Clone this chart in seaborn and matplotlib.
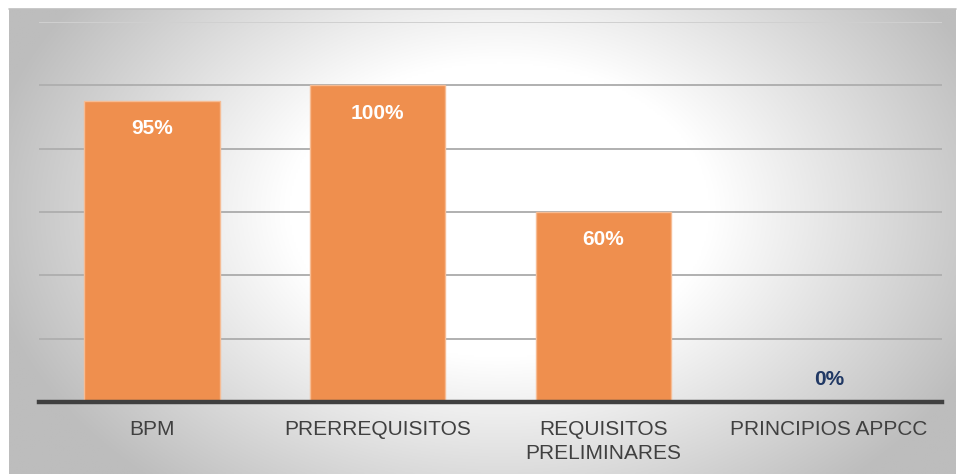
import numpy as np
import pandas as pd
import matplotlib
matplotlib.use("Agg")
import matplotlib.pyplot as plt
import seaborn as sns

categories = ["BPM", "PRERREQUISITOS", "REQUISITOS\nPRELIMINARES", "PRINCIPIOS APPCC"]
values = [95, 100, 60, 0]
value_labels = ["95%", "100%", "60%", "0%"]

sns.set_theme(style="white")
plt.rcParams['font.family'] = ['Liberation Sans', 'DejaVu Sans']

W, H = 957, 474
fig = plt.figure(figsize=(W / 100, H / 100), dpi=100)
fig.patch.set_facecolor("white")

# radial gradient background (chart area)
bx0, by0, bx1, by1 = 9, 9, 956, 474
bg = fig.add_axes([bx0 / W, 0, (bx1 - bx0) / W, (by1 - by0) / H], zorder=0)
nx, ny = 480, 240
xs = np.linspace(bx0, bx1, nx)
ys = np.linspace(by0, by1, ny)
X, Y = np.meshgrid(xs, ys)
d = np.sqrt(((X - 500) / 470) ** 2 + ((Y - 210) / 330) ** 2)
t = np.clip((d - 0.45) / 0.55, 0, 1.2)
g = (255 - 55 * t) / 255
img = np.dstack([g, g, g])
bg.imshow(img, aspect="auto", extent=[0, 1, 0, 1], origin="upper")
bg.set_xlim(0, 1)
bg.set_ylim(0, 1)
bg.axis("off")
# thin frame line on top
fig.add_artist(plt.Line2D([bx0 / W, bx1 / W], [1 - by0 / H, 1 - by0 / H], color="#BFBFBF", lw=1.2, transform=fig.transFigure, zorder=1))

ax = fig.add_axes([39 / W, (H - 402) / H, (942 - 39) / W, (402 - 22) / H], zorder=2)
ax.patch.set_alpha(0)

df = pd.DataFrame({"cat": categories, "val": values})
sns.barplot(data=df, x="cat", y="val", ax=ax, color="#EF8F4E", saturation=1,
            width=0.6, edgecolor="#F6BC94", linewidth=1.0, zorder=3)

ax.set_ylim(0, 120)
ax.set_yticks([0, 20, 40, 60, 80, 100, 120])
ax.yaxis.grid(True, color="#B0B0B0", linewidth=1.4, zorder=1)
gl = ax.get_ygridlines()
gl[-1].set_color("#D0D0D0")
ax.set_axisbelow(True)
ax.tick_params(axis="y", left=False, labelleft=False)
ax.tick_params(axis="x", bottom=False, labelsize=15, labelcolor="#404040", pad=7)
for lab in ax.get_xticklabels():
    lab.set_linespacing(1.35)
ax.set_xlabel("")
ax.set_ylabel("")
for s in ["top", "right", "left"]:
    ax.spines[s].set_visible(False)
ax.spines["bottom"].set_color("#404040")
ax.spines["bottom"].set_linewidth(3.2)
ax.spines["bottom"].set_zorder(4)

for i, (v, lab) in enumerate(zip(values, value_labels)):
    if v > 0:
        ax.annotate(lab, (i, v), xytext=(0, -20), textcoords="offset points",
                    ha="center", va="center", fontsize=15, fontweight="bold",
                    color="white", zorder=5)
    else:
        ax.annotate(lab, (i, v), xytext=(0, 16.5), textcoords="offset points",
                    ha="center", va="center", fontsize=15, fontweight="bold",
                    color="#203864", zorder=5)

fig.savefig("out.png", dpi=100)
